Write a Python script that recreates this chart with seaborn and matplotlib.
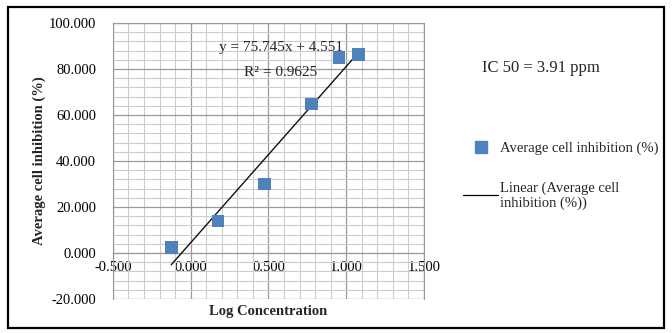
import numpy as np
import pandas as pd
import seaborn as sns
import matplotlib.pyplot as plt
import matplotlib.ticker as ticker
from matplotlib.lines import Line2D
from matplotlib.patches import Rectangle

# data
log_conc = [-0.125, 0.176, 0.477, 0.778, 0.954, 1.079]
inhibition = [2.5, 13.9, 30.0, 64.8, 85.1, 86.4]
eq_text = "y = 75.745x + 4.551"
r2_text = "R² = 0.9625"
ic50_text = "IC 50 = 3.91 ppm"

df = pd.DataFrame({"log_conc": log_conc, "inhibition": inhibition})

sns.set_theme(style="white")
plt.rcParams['font.family'] = ['Liberation Serif', 'DejaVu Serif']

fig = plt.figure(figsize=(6.72, 3.33), dpi=100)
ax = fig.add_axes([0.168, 0.102, 0.463, 0.829])

blue = "#4f81bd"
sns.regplot(data=df, x="log_conc", y="inhibition", ax=ax, scatter=False, ci=None,
            truncate=True, line_kws={"color": "#111111", "lw": 1.0, "zorder": 3})
sns.scatterplot(data=df, x="log_conc", y="inhibition", ax=ax, marker="s", s=85,
                color=blue, edgecolor="none", zorder=4)

ax.set_xlim(-0.5, 1.5)
ax.set_ylim(-20, 100)
ax.xaxis.set_major_locator(ticker.MultipleLocator(0.5))
ax.xaxis.set_minor_locator(ticker.MultipleLocator(0.1))
ax.yaxis.set_major_locator(ticker.MultipleLocator(20))
ax.yaxis.set_minor_locator(ticker.MultipleLocator(4))
ax.xaxis.set_major_formatter(ticker.FormatStrFormatter('%.3f'))
ax.yaxis.set_major_formatter(ticker.FormatStrFormatter('%.3f'))
ax.grid(which="minor", color="#cccccc", lw=0.8)
ax.grid(which="major", color="#9a9a9a", lw=0.9)
ax.set_axisbelow(True)

for side in ["top", "right", "left"]:
    ax.spines[side].set_color("#9a9a9a")
    ax.spines[side].set_linewidth(0.8)
ax.spines["bottom"].set_position(("data", 0))
ax.spines["bottom"].set_color("#9a9a9a")
ax.spines["bottom"].set_linewidth(0.8)
ax.tick_params(axis="both", which="both", length=0, labelsize=10.5, colors="black")
ax.tick_params(axis="y", pad=12)
ax.tick_params(axis="x", pad=6)

# outline of the plot area (bottom spine moved to zero)
ax.add_patch(Rectangle((0, 0), 1, 1, transform=ax.transAxes, fill=False,
                       edgecolor="#9a9a9a", lw=0.8, zorder=1))

ax.set_xlabel("Log Concentration", fontsize=10.5, fontweight="bold", labelpad=0)
ax.xaxis.set_label_coords(0.5, -0.02)
ax.set_ylabel("Average cell inhibition (%)", fontsize=10.5, fontweight="bold")
ax.yaxis.set_label_coords(-0.215, 0.5)

ax.text(0.54, 0.91, eq_text, transform=ax.transAxes, ha="center", va="center", fontsize=11)
ax.text(0.54, 0.82, r2_text, transform=ax.transAxes, ha="center", va="center", fontsize=11)

fig.text(0.717, 0.795, ic50_text, fontsize=12, va="center")

handles = [
    Line2D([], [], marker="s", color=blue, ls="none", markersize=8),
    Line2D([], [], color="black", lw=0.9),
]
fig.legend(handles, ["Average cell inhibition (%)", "Linear (Average cell\ninhibition (%))"],
           loc="upper left", bbox_to_anchor=(0.67, 0.615), frameon=False, fontsize=10.5,
           handlelength=2.4, handletextpad=0.1, labelspacing=1.8)

# outer chart border
fig.add_artist(Rectangle((0.012, 0.015), 0.976, 0.965, transform=fig.transFigure,
                         fill=False, edgecolor="black", lw=1.6))

fig.savefig("out.png", dpi=100)
